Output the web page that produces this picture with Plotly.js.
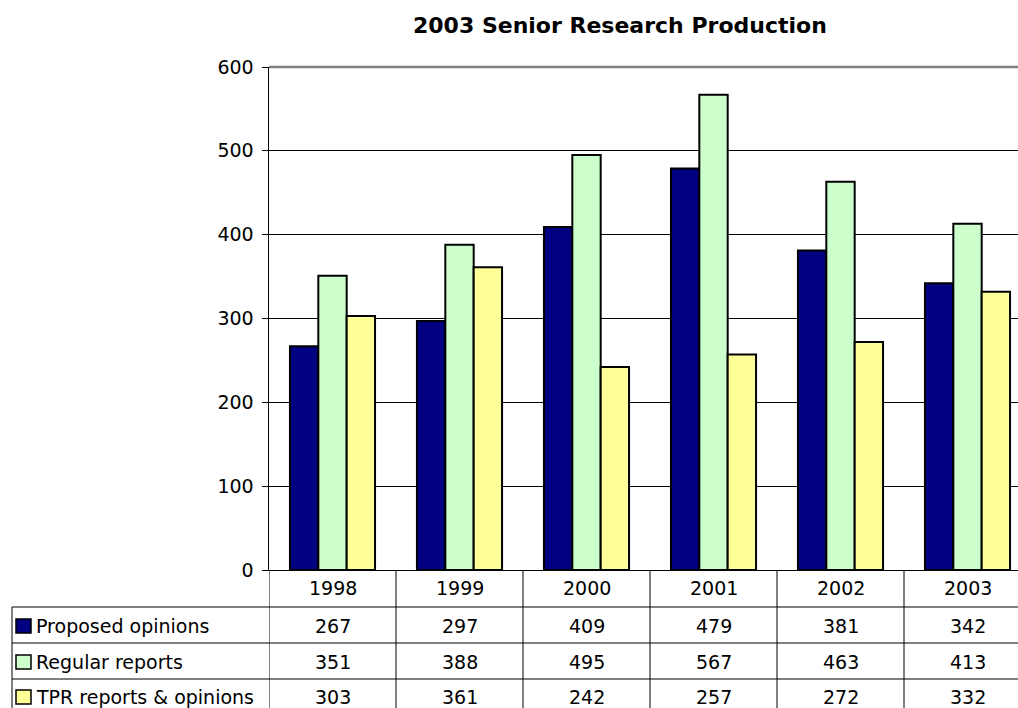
<!DOCTYPE html>
<html>
<head>
<meta charset="utf-8">
<script src="https://cdn.plot.ly/plotly-3.0.1.min.js"></script>
<style>
html, body { margin:0; padding:0; overflow:hidden; background:#fff; }
#chart { width:1040px; height:708px; }
</style>
</head>
<body>
<div id="chart"></div>
<script>
const years = ["1998", "1999", "2000", "2001", "2002", "2003"];
const seriesNames = ["Proposed opinions", "Regular reports", "TPR reports & opinions"];
const proposedOpinions = [267, 297, 409, 479, 381, 342];
const regularReports = [351, 388, 495, 567, 463, 413];
const tprReports = [303, 361, 242, 257, 272, 332];
const yTicks = [0, 100, 200, 300, 400, 500, 600];

const seriesValues = [proposedOpinions, regularReports, tprReports];
const colors = ["#000080", "#CCFFCC", "#FFFF99"];

// plot area in pixels
const W = 1040, H = 708;
const L = 269, R = 1031, T = 67, B = 570;
const px2x = p => (p - L) / (R - L);
const px2y = p => (B - p) / (B - T);

const FONT = "DejaVu Sans, Verdana, sans-serif";
const FS = 19;

const traces = seriesValues.map((vals, i) => ({
  type: "bar",
  name: seriesNames[i],
  x: years,
  y: vals,
  marker: { color: colors[i], line: { color: "#000", width: 2 } },
  hoverinfo: "x+y+name"
}));

const shapes = [];
const annotations = [];

// title
annotations.push({
  xref: "paper", yref: "paper", x: px2x(620), y: px2y(25),
  text: "<b>2003 Senior Research Production</b>", showarrow: false,
  font: { family: FONT, size: 22, color: "#000" }, xanchor: "center", yanchor: "middle"
});

// top border of plot area (gray)
shapes.push({ type: "line", xref: "paper", yref: "paper", x0: 0, x1: 1, y0: 1, y1: 1,
  line: { color: "#808080", width: 2.5 } });

// data table: vertical lines at category boundaries
for (let k = 0; k <= years.length; k++) {
  shapes.push({ type: "line", xref: "x", yref: "paper", x0: k - 0.5, x1: k - 0.5,
    y0: 0, y1: px2y(720), line: { color: "#000", width: 1 } });
}
// horizontal lines across the table
const rowLines = [607, 643, 679];
rowLines.forEach(yp => {
  shapes.push({ type: "line", xref: "paper", yref: "paper", x0: px2x(12), x1: px2x(1040),
    y0: px2y(yp), y1: px2y(yp), line: { color: "#000", width: 1 } });
});
// legend column left border
shapes.push({ type: "line", xref: "paper", yref: "paper", x0: px2x(12), x1: px2x(12),
  y0: px2y(607), y1: px2y(720), line: { color: "#000", width: 1 } });

// header row: year labels (category index positions)
years.forEach((yr, j) => {
  annotations.push({ xref: "x", yref: "paper", x: j, y: px2y(588), text: yr, showarrow: false,
    font: { family: FONT, size: FS, color: "#000" }, xanchor: "center", yanchor: "middle" });
});

// value rows
const rowCenters = [626, 662, 697];
seriesValues.forEach((vals, i) => {
  // legend key
  shapes.push({ type: "rect", xref: "paper", yref: "paper",
    x0: px2x(16), x1: px2x(31), y0: px2y(rowCenters[i] - 7), y1: px2y(rowCenters[i] + 7),
    fillcolor: colors[i], line: { color: "#000", width: 1.5 } });
  annotations.push({ xref: "paper", yref: "paper", x: px2x(34), y: px2y(rowCenters[i]),
    text: seriesNames[i], showarrow: false, xanchor: "left", yanchor: "middle",
    font: { family: FONT, size: FS, color: "#000" } });
  vals.forEach((v, j) => {
    annotations.push({ xref: "x", yref: "paper", x: j, y: px2y(rowCenters[i]),
      text: String(v), showarrow: false, xanchor: "center", yanchor: "middle",
      font: { family: FONT, size: FS, color: "#000" } });
  });
});

const layout = {
  width: W, height: H,
  margin: { l: L, r: W - R, t: T, b: H - B, pad: 0 },
  paper_bgcolor: "#fff", plot_bgcolor: "#fff",
  showlegend: false,
  barmode: "group",
  bargap: 0.33,
  bargroupgap: 0,
  font: { family: FONT, size: FS, color: "#000" },
  xaxis: {
    type: "category", range: [-0.5, 5.5], showticklabels: false, ticks: "",
    showgrid: false, zeroline: false, showline: true, linecolor: "#000", linewidth: 1,
    fixedrange: true
  },
  yaxis: {
    range: [0, 600], tickvals: yTicks, ticktext: yTicks.map(String),
    ticks: "outside", ticklen: 6, tickcolor: "#000", tickwidth: 1,
    ticklabelstandoff: 4,
    showgrid: true, gridcolor: "#000", gridwidth: 1, zeroline: false,
    showline: true, linecolor: "#000", linewidth: 1.5,
    tickfont: { family: FONT, size: FS, color: "#000" }, fixedrange: true
  },
  shapes: shapes,
  annotations: annotations
};

Plotly.newPlot("chart", traces, layout, { displayModeBar: false, staticPlot: true });
</script>
</body>
</html>
